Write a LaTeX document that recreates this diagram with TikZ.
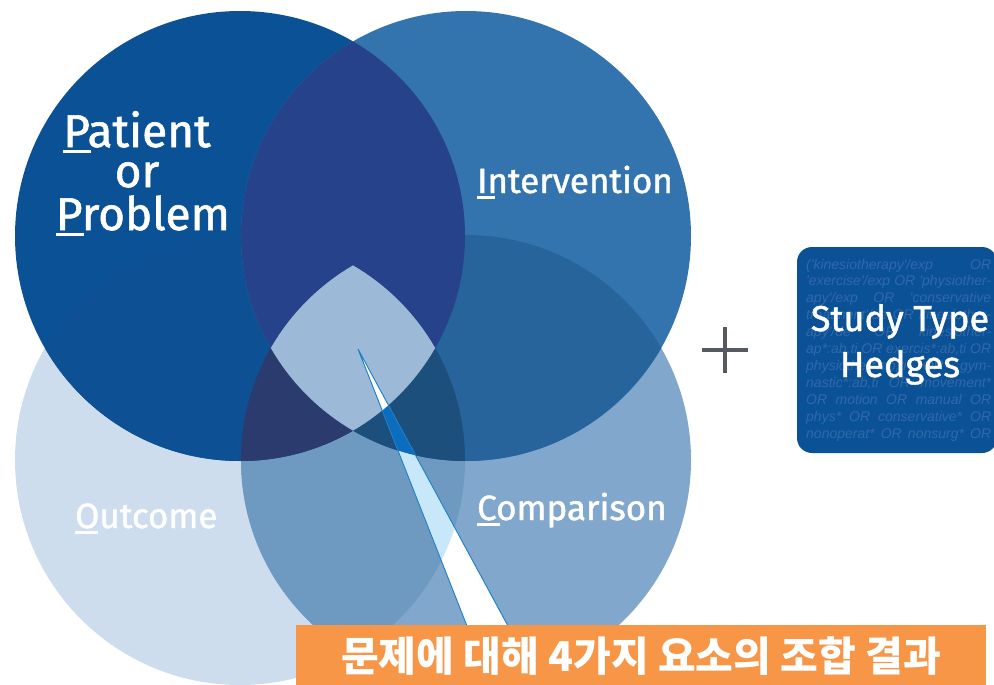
\documentclass[tikz,border=0pt]{standalone}
\usepackage{fontspec}
\setmainfont{Fira Sans}
\newfontfamily\lblfont{Fira Sans}[FakeBold=1.3]
\newfontfamily\krfont{Noto Sans CJK KR}
\newfontfamily\hedgefont{Liberation Sans}
\definecolor{cP}{HTML}{0B5196}
\definecolor{cI}{HTML}{3374AE}
\definecolor{cO}{HTML}{CDDDED}
\definecolor{cC}{HTML}{81A7CC}
\definecolor{cPI}{HTML}{25428A}
\definecolor{cPO}{HTML}{0D5093}
\definecolor{cIC}{HTML}{26649B}
\definecolor{cOC}{HTML}{6E9AC1}
\definecolor{cPOC}{HTML}{2B3B6D}
\definecolor{cIOC}{HTML}{1C4F7C}
\definecolor{cQ}{HTML}{9CB9D7}
\definecolor{wedgeblue}{HTML}{0A6DBE}
\definecolor{wedgecyan}{HTML}{C8E8FA}
\definecolor{wedgeline}{HTML}{1A7CC8}
\definecolor{boxorange}{HTML}{F79646}
\definecolor{plusgrey}{HTML}{555960}
\definecolor{ghost}{HTML}{3069AB}
\newcommand\ulw[2]{\rlap{\rule[-6pt]{#1}{3pt}}#2}
\def\Pc{(240,236) circle[radius=225]}
\def\Ic{(466,236) circle[radius=225]}
\def\Oc{(240,460) circle[radius=225]}
\def\Cc{(466,460) circle[radius=225]}
\begin{document}
\begin{tikzpicture}[x=1pt,y=-1pt,
  lbl/.style={text=white, inner sep=0pt, font=\lblfont\fontsize{35}{40}\selectfont},
  biglbl/.style={text=white, inner sep=0pt, anchor=base, font=\lblfont\fontsize{46}{50}\selectfont},
  ghostline/.style={text=ghost, inner sep=0pt, anchor=base west, font=\hedgefont\itshape\fontsize{14}{16}\selectfont},
  hedgelbl/.style={text=white, inner sep=0pt, anchor=base, font=\lblfont\fontsize{36}{40}\selectfont}]
\useasboundingbox (0,0) rectangle (994,685);
% circles
\fill[cO] \Oc;
\fill[cC] \Cc;
\begin{scope}\clip \Oc; \fill[cOC] \Cc;\end{scope}
\fill[cP] \Pc;
\begin{scope}\clip \Pc; \fill[cPO] \Oc;\end{scope}
\fill[cI] \Ic;
\begin{scope}\clip \Ic; \fill[cIC] \Cc;\end{scope}
\begin{scope}\clip \Pc; \fill[cPI] \Ic;\end{scope}
\begin{scope}\clip \Pc; \clip \Oc; \fill[cPOC] \Cc;\end{scope}
\begin{scope}\clip \Ic; \clip \Oc; \fill[cIOC] \Cc;\end{scope}
\begin{scope}\clip \Pc; \clip \Ic; \clip \Oc; \fill[cQ] \Cc;\end{scope}
% callout wedge
\coordinate (tip) at (358,349);
\coordinate (wl) at (467,626);
\coordinate (wr) at (508,626);
\fill[white] (tip) -- (wl) -- (wr) -- cycle;
\begin{scope}
  \clip (tip) -- (wl) -- (wr) -- cycle;
  \clip \Oc;
  \fill[wedgecyan] \Cc;
  \clip \Ic;
  \fill[wedgeblue] \Cc;
  \clip \Pc;
  \fill[white] \Cc;
\end{scope}
\draw[wedgeline, line width=0.9pt, line join=miter] (wl) -- (tip) -- (wr);
% labels
\node[biglbl] (patient) at (137,147) {\ulw{28pt}{P}atient};
\node[biglbl] (or) at (137,187) {or};
\node[biglbl] (problem) at (143,230) {\ulw{28pt}{P}roblem};
\node[lbl, anchor=base west] (intervention) at (477,193) {\ulw{18pt}{I}ntervention};
\node[lbl, anchor=base west] (comparison) at (477,520) {\ulw{23pt}{C}omparison};
\node[lbl, anchor=base west] (outcome) at (75,528) {\ulw{23pt}{O}utcome};
% plus
\coordinate (plusc) at (725,350);
\draw[plusgrey, line width=3.5pt] (702,350) -- (748,350) (725,327) -- (725,373);
% hedges box
\node[fill=cP, rounded corners=15pt, minimum width=200pt, minimum height=206pt, inner sep=0pt] (hedges) at (897,350) {};
\foreach \t [count=\i] in {
  {('kinesiotherapy'/exp OR},
  {'exercise'/exp OR 'physiother-},
  {apy'/exp OR 'conservative},
  {treatment'/de OR kinesiother-},
  {apy'/de OR kinesiother-},
  {ap*:ab,ti OR exercis*:ab,ti OR},
  {physiother*:ab,ti OR gym-},
  {nastic*:ab,ti OR movement*},
  {OR motion OR manual OR},
  {phys* OR conservative* OR},
  {nonoperat* OR nonsurg* OR}}
  \node[ghostline] (g\i) at (806,{269+16.9*(\i-1)}) {\makebox[185pt][s]{\t}};
\node[hedgelbl] (study) at (900,331) {Study Type};
\node[hedgelbl] (hedgestxt) at (900,377) {Hedges};
% result box
\node[fill=boxorange, minimum width=690pt, minimum height=62pt, inner sep=0pt, text=white,
  font=\krfont\bfseries\fontsize{41}{44}\selectfont] (result) at (641,656) {문제에 대해 4가지 요소의 조합 결과};
\end{tikzpicture}
\end{document}
